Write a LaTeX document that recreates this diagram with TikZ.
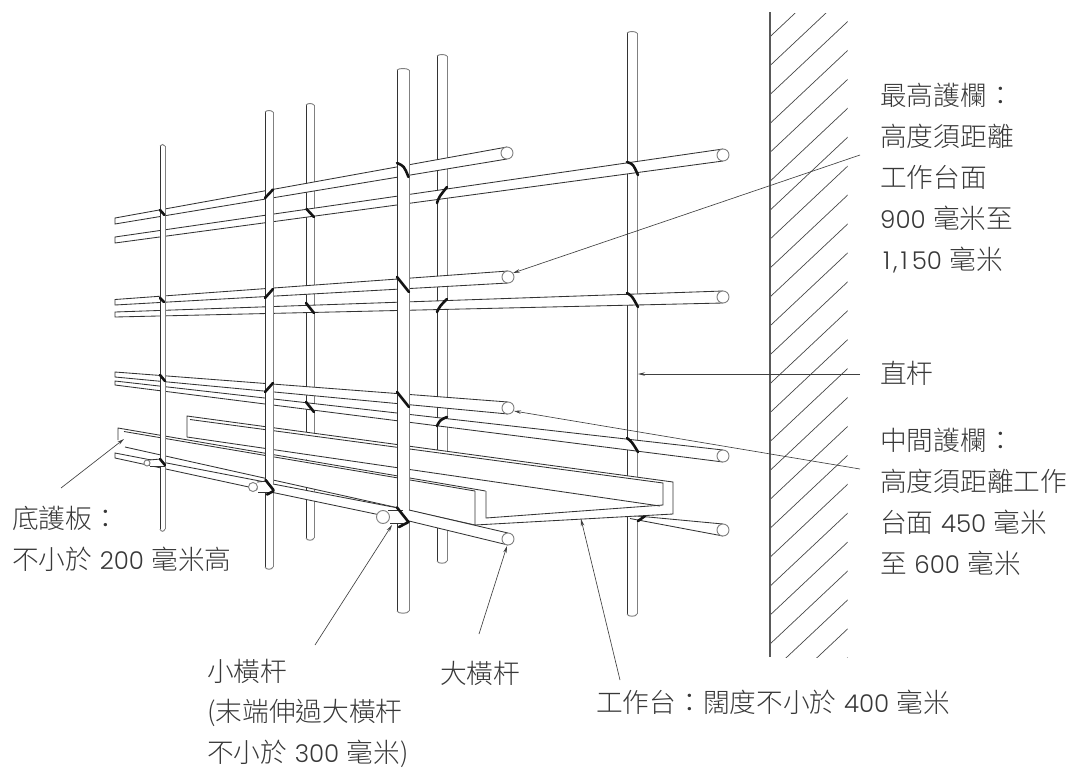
\documentclass[tikz,border=0pt]{standalone}
\usepackage{fontspec}
\setmainfont{Noto Sans CJK TC}[UprightFont=* Light]
\newfontfamily\latf{Poppins}[UprightFont=* Light]
\usetikzlibrary{arrows.meta}
\newcommand{\lat}[1]{{\latf\fontsize{24.5}{41}\selectfont #1}}
\newcommand{\hd}{\rule{0pt}{24pt}}
\newcommand{\gp}{\hspace{7.5pt}}
\tikzset{
  ln/.style={draw=black!80,line width=0.85pt},
  lnr/.style={draw=black!50,line width=0.95pt},
  coupler/.style={draw=black!92,line width=2.6pt,line cap=round},
  leader/.style={draw=black!75,line width=0.65pt,-{Stealth[length=7pt,width=3.5pt]}},
  wallline/.style={draw=black!65,line width=1.1pt},
  hatch/.style={draw=black!72,line width=0.7pt},
  lab/.style={anchor=north west,inner sep=0pt,align=left,text=black!78,font=\fontsize{26.7}{41}\selectfont},
}
% pole: xl xr top bottom
\newcommand{\pole}[4]{
  \fill[white] (#1,#3) rectangle (#2,#4);
  \draw[ln] (#1,#3) -- (#1,#4-2);
  \draw[lnr] (#2,#3) -- (#2,#4-2);
  \draw[lnr] (#1,#3) .. controls (#1+2,#3-2) and (#2-2,#3-2) .. (#2,#3);
  \draw[lnr] (#1,#4-2) .. controls (#1+1,#4+1) and (#2-1,#4+1) .. (#2,#4-2);
}
% tube: xleft yupper ylower cx cy r
\newcommand{\tube}[6]{
  \fill[white] (#1,#2) -- (#4,#5-#6) -- (#4,#5+#6) -- (#1,#3) -- cycle;
  \draw[ln] (#4,#5-#6) -- (#1,#2) -- (#1,#3) -- (#4,#5+#6);
  \draw[lnr,fill=white] (#4,#5) circle[radius=#6pt];
}
\begin{document}
\begin{tikzpicture}[x=1pt,y=-1pt]
\useasboundingbox (0,0) rectangle (1076,769);
% wall
\begin{scope}
\clip (770,13) rectangle (847.5,657);
\foreach \k in {-1,...,24}{
  \draw[hatch] (770,36.7+28.92*\k) -- ++(90,-84.6);
}
\end{scope}
\draw[wallline] (770,12) -- (770,657);
% far poles
\pole{306}{314}{105}{540}
\pole{437}{447}{56}{563}
\pole{627}{637}{33}{616}
% far lower rail
\fill[white] (630,515) -- (723,524) -- (723,536) -- (630,518.5) -- cycle;
\draw[ln] (630,515.3) -- (723,524);
\draw[ln] (630,518.5) -- (723,536);
\draw[lnr,fill=white] (723,530) circle[radius=6pt];
% rails
\tube{115}{237}{243}{723}{155}{6}
\tube{115}{312}{317}{723}{297}{6}
\tube{115}{381}{385}{723}{456}{6}
\tube{115}{218}{224}{507}{153}{6}
\tube{115}{299.5}{305}{508}{277}{6}
\tube{115}{372}{377}{508}{408}{6}
% couplers behind near poles
\draw[coupler] (306.5,209) -- (314,217);
\draw[coupler] (306,303) -- (314,313);
\draw[coupler] (306,402) -- (314,412);
\draw[coupler] (437,203) .. controls (439,197) .. (447,187);
\draw[coupler] (437,312) .. controls (440,306) .. (447,299);
\draw[coupler] (437,426) .. controls (440,420) .. (447,417);
\draw[coupler] (627,162) .. controls (633,164) .. (638,175);
\draw[coupler] (627,293) .. controls (632,296) .. (638,307);
\draw[coupler] (627,438) .. controls (632,442) .. (638,452);
\draw[coupler] (638,521) -- (645,516);
% working platform and toe boards
\fill[white] (187,416) -- (673,482) -- (673,514) -- (475,525) -- (475,491) -- (187,437) -- cycle;
\fill[white] (118,428) -- (486,491) -- (475,525) -- (125,447) -- (118,440) -- cycle;
\draw[ln] (187,437) -- (187,416) -- (673,482) -- (673,514) -- (475,525) -- (475,491);
\draw[ln] (190,419.5) -- (663,483) -- (663,505) -- (486,518) -- (486,491);
\draw[ln] (187,437) -- (660,506);
\draw[ln] (118,440) -- (118,428) -- (485.6,491);
\draw[ln] (124,431.5) -- (475,491);
\draw[ln] (125,447) -- (475,525);
% near poles
\pole{265}{273}{112}{569}
\pole{397}{409}{70}{613}
\draw[coupler] (265,198) -- (273,189.5);
\draw[coupler] (265,298) -- (273,289);
\draw[coupler] (265,392) -- (273,383);
\draw[coupler] (397,163) .. controls (404,166) .. (408.5,177);
\draw[coupler] (397,277) -- (409,292);
\draw[coupler] (397,392) -- (409,407);
% near lower rail
\fill[white] (115,453) -- (409,510) -- (508,533) -- (508,545) -- (409,521) -- (115,458) -- cycle;
\draw[ln] (265,482) -- (115,453) -- (115,458) -- (265,490.5);
\draw[ln] (273,484) -- (397,507.8);
\draw[ln] (273,492.5) -- (397,518.5);
\draw[ln] (409,510) -- (508,533);
\draw[ln] (409,521) -- (508,545);
\draw[lnr,fill=white] (508,539) circle[radius=6pt];
% small ledgers
\fill[white] (388,510) -- (403,510) -- (403,523) -- (390,523) -- cycle;
\draw[ln] (388,510) -- (403,510);
\draw[ln] (390,523) -- (403,523);
\draw[lnr,fill=white] (383,517) circle[radius=6.5pt];
\draw[coupler] (397,507.5) -- (408.5,522);
\draw[coupler] (399,527) -- (408.5,522);
\fill[white] (257,482) -- (268,481) -- (270,492) -- (258,492) -- cycle;
\draw[ln] (257,482) -- (268,481);
\draw[ln] (258,492) -- (270,492);
\draw[lnr,fill=white] (253,487) circle[radius=4.5pt];
\draw[coupler] (265.5,480) -- (273.5,490);
\draw[coupler] (267,494.5) -- (273.5,491);
% nearest pole
\pole{160}{165}{146}{531}
\fill[white] (149,460) -- (161,460) -- (163,466) -- (150,466) -- cycle;
\draw[ln] (149,460) -- (161,459);
\draw[ln] (150,466) -- (165,466);
\draw[lnr,fill=white] (147,463) circle[radius=3pt];
\draw[coupler] (160,459) -- (165,465);
\draw[coupler] (160,210) -- (164.5,215);
\draw[coupler] (160,298) -- (164,302);
\draw[coupler] (160,375) -- (165,381);
% labels
\node[lab] (ntop) at (880,81) {\hd 最高護欄：\\高度須距離\\工作台面\\\lat{900}\gp 毫米至\\\lat{\kern3pt 1\kern3pt,\kern3pt 1\kern4pt 50}\gp 毫米};
\node[lab] (npole) at (880,359) {\hd 直杆};
\node[lab] (nmid) at (880,426) {\hd 中間護欄：\\高度須距離工作\\台面\gp\lat{450}\gp 毫米\\至\gp\lat{600}\gp 毫米};
\node[lab] (ntoe) at (12,504) {\hd 底護板：\\不小於\gp\lat{200}\gp 毫米高};
\node[lab,font=\fontsize{26.7}{40.5}\selectfont] (nsmall) at (207,657) {\hd 小橫杆\\(末端伸過大橫杆\\不小於\gp\lat{300}\gp 毫米)};
\node[lab] (nbig) at (440,659) {\hd 大橫杆};
\node[lab] (nplat) at (596,688) {\hd 工作台：闊度不小於\gp\lat{400}\gp 毫米};
% leaders
\coordinate (stop) at (860,155);  \coordinate (ttop) at (513,273);
\coordinate (spole) at (860,374); \coordinate (tpole) at (638,374);
\coordinate (smid) at (860,469);  \coordinate (tmid) at (514,411);
\coordinate (stoe) at (61,488);   \coordinate (ttoe) at (124,439);
\coordinate (ssmall) at (315,645);\coordinate (tsmall) at (392,525);
\coordinate (sbig) at (479,634);  \coordinate (tbig) at (507,546);
\coordinate (splat) at (620,680); \coordinate (tplat) at (581,519);
\draw[leader] (stop) -- (ttop);
\draw[leader] (spole) -- (tpole);
\draw[leader] (smid) -- (tmid);
\draw[leader] (stoe) -- (ttoe);
\draw[leader] (ssmall) -- (tsmall);
\draw[leader] (sbig) -- (tbig);
\draw[leader] (splat) -- (tplat);
\end{tikzpicture}
\end{document}
